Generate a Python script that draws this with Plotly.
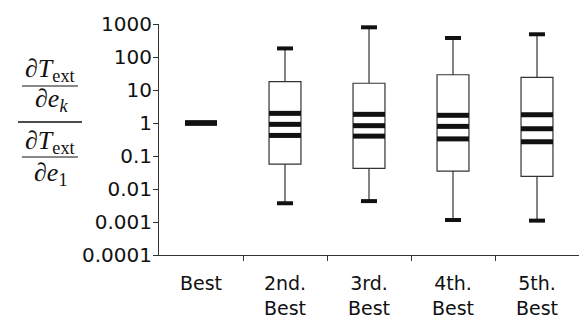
import plotly.graph_objects as go

# ---- data ----
categories = ["Best", "2nd.<br>Best", "3rd.<br>Best", "4th.<br>Best", "5th.<br>Best"]
upper_cap = [1, 182, 794, 377, 488]
box_top = [1, 18, 16, 29, 24]
q_high = [1, 1.96, 1.83, 1.71, 1.78]
q_mid = [1, 0.91, 0.83, 0.79, 0.67]
q_low = [1, 0.42, 0.40, 0.33, 0.27]
box_bottom = [1, 0.057, 0.042, 0.035, 0.024]
lower_cap = [1, 0.0037, 0.0043, 0.00115, 0.0011]
y_tickvals = [1e-4, 1e-3, 1e-2, 1e-1, 1, 10, 100, 1000]
y_ticktext = ["0.0001", "0.001", "0.01", "0.1", "1", "10", "100", "1000"]

INK = "#111111"
BOX_HALF = 0.19
CAP_HALF = 0.095

fig = go.Figure()

xs = list(range(len(categories)))

# boxes + whiskers (thin) for all but "Best"
for i in xs[1:]:
    fig.add_trace(go.Box(
        x=[i], q1=[box_bottom[i]], q3=[box_top[i]], median=[q_mid[i]],
        lowerfence=[lower_cap[i]], upperfence=[upper_cap[i]],
        width=2 * BOX_HALF, whiskerwidth=0,
        fillcolor="white", line=dict(color="#333333", width=1.2),
        showlegend=False, hoverinfo="skip", boxpoints=False,
    ))

# thick caps
cx, cy = [], []
for i in xs[1:]:
    for v in (upper_cap[i], lower_cap[i]):
        cx += [i - CAP_HALF, i + CAP_HALF, None]
        cy += [v, v, None]
fig.add_trace(go.Scatter(x=cx, y=cy, mode="lines",
                         line=dict(color=INK, width=4), showlegend=False,
                         hoverinfo="skip"))

# thick quantile lines
lx, ly = [], []
for i in xs:
    for v in (q_high[i], q_mid[i], q_low[i]):
        lx += [i - BOX_HALF, i + BOX_HALF, None]
        ly += [v, v, None]
fig.add_trace(go.Scatter(x=lx, y=ly, mode="lines",
                         line=dict(color=INK, width=5), showlegend=False,
                         hoverinfo="skip"))

# ---- layout ----
L, T, W, H = 159, 24, 420, 231


def px(xpix):
    return (xpix - L) / W


def py(ypix):
    return 1 - (ypix - T) / H


serif = dict(family="Liberation Serif", size=26, color=INK)
ann = [
    dict(text="∂<i>T</i><sub>ext</sub>", x=px(50), y=py(70)),
    dict(text="∂<i>e<sub>k</sub></i>", x=px(51), y=py(100)),
    dict(text="∂<i>T</i><sub>ext</sub>", x=px(50), y=py(142)),
    dict(text="∂<i>e</i><sub>1</sub>", x=px(51), y=py(174)),
]
annotations = [dict(a, xref="paper", yref="paper", showarrow=False,
                    xanchor="center", yanchor="middle", font=serif)
               for a in ann]

shapes = []
for x0, x1, yy, w in [(22, 78, 86, 1), (18, 82, 122, 1.3), (22, 78, 157, 1)]:
    shapes.append(dict(type="line", xref="paper", yref="paper",
                       x0=px(x0), x1=px(x1), y0=py(yy), y1=py(yy),
                       line=dict(color=INK, width=w)))

fig.update_layout(
    width=579, height=320,
    margin=dict(l=L, r=0, t=T, b=320 - T - H),
    plot_bgcolor="white", paper_bgcolor="white",
    font=dict(family="DejaVu Sans", size=20, color=INK),
    annotations=annotations, shapes=shapes,
    showlegend=False,
    xaxis=dict(
        range=[-0.5, 4.5], tickmode="array", tickvals=xs, ticktext=categories,
        ticks="", showgrid=False, zeroline=False, automargin=False,
        showline=True, linecolor="#333333", linewidth=1,
        ticklabelstandoff=11, tickfont=dict(size=19),
        minor=dict(tickmode="array", tickvals=[0.5, 1.5, 2.5, 3.5],
                   ticks="outside", ticklen=5, tickcolor="#333333",
                   tickwidth=1, showgrid=False),
    ),
    yaxis=dict(
        type="log", range=[-4, 3], tickmode="array",
        tickvals=y_tickvals, ticktext=y_ticktext,
        ticks="outside", ticklen=5, tickcolor="#333333", tickwidth=1,
        showgrid=False, zeroline=False, automargin=False,
        showline=True, linecolor="#333333", linewidth=1,
        ticklabelstandoff=-3,
    ),
)

fig.write_html("out.html",
               config={"displayModeBar": False},
               post_script="document.body.style.margin='0';")
